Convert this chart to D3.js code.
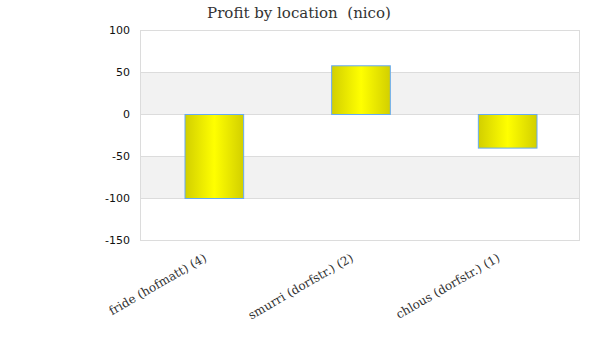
<!DOCTYPE html>
<html><head><meta charset="utf-8">
<script src="https://cdn.jsdelivr.net/npm/d3@7"></script>
<style>body{margin:0;background:#fff}</style>
</head><body>
<svg id="c" width="600" height="360"></svg>
<script>
const categories = ["fride (hofmatt) (4)", "smurri (dorfstr.) (2)", "chlous (dorfstr.) (1)"];
const values = [-100, 58, -40];
const yTicks = [100, 50, 0, -50, -100, -150];
const title = "Profit by location  (nico)";

const svg = d3.select("#c");
const m = {l:140, r:20, t:30, b:120};
const W = 600, H = 360;
const x = d3.scaleBand().domain(categories).range([m.l, W - m.r]).paddingInner(0).paddingOuter(0);
const y = d3.scaleLinear().domain([-150, 100]).range([H - m.b, m.t]);

const defs = svg.append("defs");
const g = defs.append("linearGradient").attr("id","gr").attr("x1","0%").attr("x2","100%").attr("y1","0%").attr("y2","0%");
g.append("stop").attr("offset","0%").attr("stop-color","#d2cf00");
g.append("stop").attr("offset","50%").attr("stop-color","#ffff00");
g.append("stop").attr("offset","100%").attr("stop-color","#d2cf00");

// alternating bands
for (let i = 0; i < yTicks.length - 1; i++) {
  if (i % 2 === 1) {
    svg.append("rect").attr("x", m.l).attr("width", W - m.r - m.l)
      .attr("y", y(yTicks[i])).attr("height", y(yTicks[i+1]) - y(yTicks[i]))
      .attr("fill", "#f2f2f2");
  }
}
// grid lines
svg.append("g").selectAll("line").data(yTicks).join("line")
  .attr("x1", m.l).attr("x2", W - m.r)
  .attr("y1", d => y(d) + 0.5).attr("y2", d => y(d) + 0.5)
  .attr("stroke", "#dcdcdc");
// vertical edges
svg.append("line").attr("x1", m.l+0.5).attr("x2", m.l+0.5).attr("y1", y(100)).attr("y2", y(-150)).attr("stroke","#dcdcdc");
svg.append("line").attr("x1", W-m.r-0.5).attr("x2", W-m.r-0.5).attr("y1", y(100)).attr("y2", y(-150)).attr("stroke","#dcdcdc");

// y axis labels
const yAxis = d3.axisLeft(y).tickValues(yTicks).tickSize(0).tickPadding(10).tickFormat(d => String(d));
const ya = svg.append("g").attr("transform", `translate(${m.l},0)`).call(yAxis);
ya.select(".domain").remove();
ya.selectAll("text").attr("font-family","DejaVu Sans").attr("font-size", 11).attr("fill","#111");

// bars
const bw = x.bandwidth() * 0.4;
svg.append("g").selectAll("rect").data(values).join("rect")
  .attr("x", (d,i) => x(categories[i]) + (x.bandwidth() - bw)/2 + 1)
  .attr("width", bw)
  .attr("y", d => y(Math.max(0, d)) + 0.5)
  .attr("height", d => Math.abs(y(d) - y(0)))
  .attr("fill", "url(#gr)")
  .attr("stroke", "#66aaf5").attr("stroke-width", 1);

// x axis labels
const xAxis = d3.axisBottom(x).tickSize(0).tickPadding(0);
const xa = svg.append("g").attr("transform", `translate(0,${y(-150) + 12})`).call(xAxis);
xa.select(".domain").remove();
xa.selectAll("text")
  .attr("font-family", "DejaVu Serif").attr("font-size", 12).attr("fill","#333")
  .attr("text-anchor","end").attr("dy","0.7em")
  .attr("transform","translate(-10,1) rotate(-30)");

// title
svg.append("text").attr("x", 299).attr("y", 18).attr("text-anchor","middle")
  .attr("xml:space","preserve").style("white-space","pre")
  .attr("font-family","DejaVu Serif").attr("font-size", 15).attr("fill","#333").text(title);
</script>
</body></html>
